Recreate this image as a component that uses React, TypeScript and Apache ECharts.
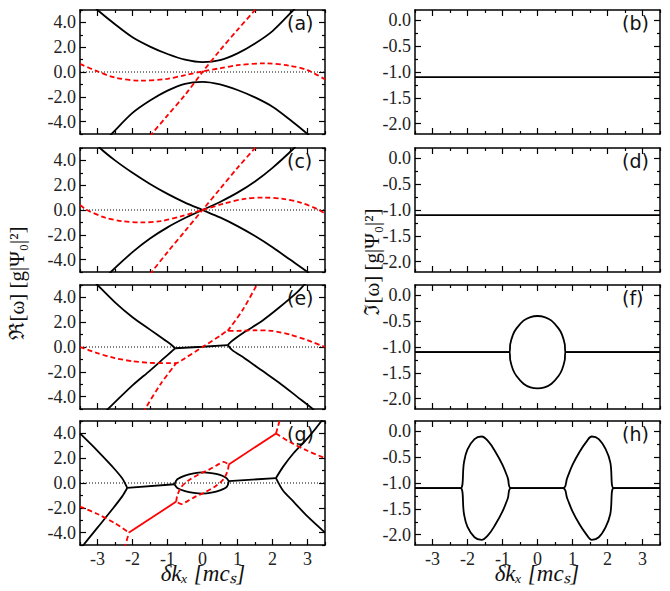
import React, { useEffect, useRef } from "react";
import * as echarts from "echarts";

type P = [number, number][];

// x axis ticks
const xMajor = [-3, -2, -1, 0, 1, 2, 3];
const xMinor = [-3.5, -2.5, -1.5, -0.5, 0.5, 1.5, 2.5, 3.5];
const reMajor = [-4, -2, 0, 2, 4];
const reMinor = [-5, -3, -1, 1, 3, 5];
const imMajor = [-2, -1.5, -1, -0.5, 0];
const imMinor = [-2.25, -1.75, -1.25, -0.75, -0.25];
const zeroLine: P = [[-3.5, 0], [3.5, 0]];

// (a)
const aUp: P = [[-3.1, 5.3], [-3, 5], [-2.5, 3.85], [-2, 2.8], [-1.5, 2.05], [-1, 1.45], [-0.5, 1.0], [0, 0.8], [0.5, 0.95], [1, 1.5], [1.5, 2.3], [2, 3.3], [2.6, 5], [2.7, 5.3]];
const aLo: P = aUp.map(([x, y]) => [-x, -y] as [number, number]).reverse();
const aRedSteep: P = [[-1.5, -5.2], [-1.45, -5], [-1, -3.5], [-0.5, -1.85], [0, 0], [0.5, 1.75], [1, 3.4], [1.5, 5], [1.55, 5.2]];
const aRedWave: P = [[-3.5, 0.65], [-3, 0.05], [-2.5, -0.45], [-1.8, -0.7], [-1, -0.55], [-0.5, -0.25], [0, 0.05], [0.5, 0.3], [1, 0.55], [1.8, 0.7], [2.5, 0.5], [3, 0.15], [3.5, -0.6]];
// (c)
const cDown: P = [[-3.0, 5.3], [-2.93, 5], [-2.5, 4.0], [-2, 3.0], [-1.5, 2.1], [-1, 1.3], [-0.5, 0.6], [0, 0], [0.5, -0.6], [1, -1.3], [1.5, -2.1], [2, -3.0], [2.5, -4.0], [3.0, -5], [3.1, -5.3]];
const cUp: P = [[-2.7, -5.3], [-2.62, -5], [-2, -3.4], [-1.5, -2.3], [-1, -1.4], [-0.5, -0.65], [0, 0], [0.5, 0.65], [1, 1.4], [1.5, 2.3], [2, 3.4], [2.62, 5], [2.7, 5.3]];
const cRedSteep: P = [[-1.5, -5.2], [-1.45, -5], [-1, -3.4], [-0.5, -1.7], [0, 0], [0.5, 1.7], [1, 3.4], [1.5, 5], [1.55, 5.2]];
const cRedWave: P = [[-3.5, 0.4], [-3.3, 0], [-2.8, -0.6], [-2.3, -0.9], [-1.75, -1.0], [-1.2, -0.9], [-0.6, -0.5], [0, 0], [0.6, 0.5], [1.2, 0.9], [1.75, 1.0], [2.3, 0.9], [2.8, 0.6], [3.3, 0.05], [3.5, -0.3]];
// (e)
const eLeftUp: P = [[-3.1, 5.3], [-3, 5], [-2.5, 3.6], [-2, 2.4], [-1.5, 1.4], [-1.1, 0.6], [-0.9, 0.2], [-0.78, -0.1]];
const eLeftLo: P = [[-2.8, -5.3], [-2.7, -5], [-2, -3.1], [-1.5, -1.9], [-1.1, -0.9], [-0.9, -0.4], [-0.78, -0.1]];
const eMid: P = [[-0.78, -0.1], [0, 0.02], [0.72, 0.15]];
const eRightUp: P = [[0.72, 0.15], [0.85, 0.5], [1.2, 1.2], [1.7, 2.1], [2.2, 3.2], [2.7, 4.4], [2.9, 5], [3.0, 5.3]];
const eRightLo: P = [[0.72, 0.15], [0.85, -0.25], [1.2, -0.9], [1.7, -1.9], [2.2, -2.9], [2.7, -4.0], [3.15, -5], [3.25, -5.3]];
const eRedWave: P = [[-3.5, 0], [-3, -0.5], [-2.5, -0.9], [-2, -1.15], [-1.5, -1.28], [-1, -1.3], [-0.75, -1.3], [-0.5, -0.9], [0, 0], [0.5, 0.9], [0.72, 1.3], [1, 1.3], [1.5, 1.35], [2, 1.3], [2.5, 1.0], [3, 0.55], [3.5, 0]];
const eRedSteepL: P = [[-1.7, -5.3], [-1.64, -5], [-1.2, -3.0], [-0.75, -1.3]];
const eRedSteepR: P = [[0.72, 1.3], [1.15, 3.0], [1.55, 5], [1.6, 5.3]];
// (g)
const gLeftUp: P = [[-3.5, 4.0], [-3, 2.6], [-2.6, 1.4], [-2.3, 0.4], [-2.15, -0.4]];
const gLeftLo: P = [[-3.45, -5.3], [-3.4, -5], [-3, -3.6], [-2.6, -2.2], [-2.3, -1.1], [-2.15, -0.4]];
const gMidL: P = [[-2.15, -0.4], [-0.8, -0.1]];
const gMidR: P = [[0.75, 0.15], [2.1, 0.4]];
const gEllUp: P = [[-0.8, -0.1], [-0.72, 0.3], [-0.5, 0.6], [-0.25, 0.78], [0, 0.85], [0.25, 0.8], [0.5, 0.65], [0.68, 0.4], [0.75, 0.15]];
const gEllLo: P = [[-0.8, -0.1], [-0.72, -0.4], [-0.5, -0.65], [-0.25, -0.8], [0, -0.85], [0.25, -0.78], [0.5, -0.6], [0.7, -0.3], [0.75, 0.15]];
const gRightUp: P = [[2.1, 0.4], [2.3, 1.3], [2.6, 2.4], [3, 3.6], [3.4, 5], [3.45, 5.3]];
const gRightLo: P = [[2.1, 0.4], [2.3, -0.6], [2.6, -1.5], [3, -2.7], [3.5, -4.0]];
const gRedSolidL: P = [[-2.1, -4.0], [-0.75, -1.5]];
const gRedSolidR: P = [[0.75, 1.5], [2.1, 4.0]];
const gRedDashL: P = [[-3.5, -1.9], [-3, -2.5], [-2.5, -3.25], [-2.1, -4.0]];
const gRedSteepL: P = [[-2.22, -5.3], [-2.2, -5], [-2.1, -4.0]];
const gRedDashR: P = [[2.1, 4.0], [2.5, 3.3], [3, 2.6], [3.5, 2.0]];
const gRedSteepR: P = [[2.1, 4.0], [2.2, 5], [2.22, 5.3]];
const gRedEllUp: P = [[-0.75, -1.5], [-0.72, -1.0], [-0.6, -0.3], [-0.4, 0.2], [-0.1, 0.7], [0.2, 1.1], [0.45, 1.5], [0.6, 1.7], [0.75, 1.5]];
const gRedEllLo: P = gRedEllUp.map(([x, y]) => [-x, -y] as [number, number]);
// imaginary parts
const imFlat: P = [[-3.5, -1.1], [3.5, -1.1]];
const fTop: P = [[-3.5, -1.1], [-0.8, -1.1], [-0.78, -0.95], [-0.7, -0.76], [-0.6, -0.64], [-0.4, -0.49], [-0.2, -0.42], [0, -0.4], [0.2, -0.42], [0.4, -0.49], [0.6, -0.64], [0.7, -0.76], [0.78, -0.95], [0.8, -1.1], [3.5, -1.1]];
const fBot: P = fTop.map(([x, y]) => [x, -2.2 - y] as [number, number]);
const hTop: P = [[-3.5, -1.1], [-2.2, -1.1], [-2.1, -0.6], [-2.0, -0.35], [-1.8, -0.15], [-1.6, -0.1], [-1.4, -0.2], [-1.2, -0.4], [-1.0, -0.65], [-0.85, -0.9], [-0.75, -1.1], [0.72, -1.1], [0.85, -0.9], [1.0, -0.65], [1.2, -0.4], [1.4, -0.2], [1.55, -0.1], [1.75, -0.15], [1.95, -0.35], [2.08, -0.6], [2.18, -1.1], [3.5, -1.1]];
const hBot: P = hTop.map(([x, y]) => [x, -2.2 - y] as [number, number]);

const labels = ["(a)", "(b)", "(c)", "(d)", "(e)", "(f)", "(g)", "(h)"];
const tops = [10, 148, 285, 421];
const lefts = [80, 415];
const H = 124, W = 245;
const serif = "serif";

export default function App() {
  const ref = useRef<HTMLDivElement>(null);
  useEffect(() => {
    const chart = echarts.init(ref.current!, undefined, { renderer: "svg" });
    const grid: any[] = [], xAxis: any[] = [], yAxis: any[] = [], series: any[] = [], graphic: any[] = [];
    for (let i = 0; i < 8; i++) {
      const row = Math.floor(i / 2), col = i % 2;
      grid.push({ left: lefts[col], top: tops[row], width: W, height: H });
      const isRe = col === 0;
      const yMin = isRe ? -5 : -2.2, yMax = isRe ? 5 : 0.2;
      const yMaj = isRe ? reMajor : imMajor, yMin2 = isRe ? reMinor : imMinor;
      const line = { show: true, onZero: false, lineStyle: { color: "#000", width: 1.5 } };
      const noLine = { show: false, onZero: false };
      const lbl = { fontFamily: serif, fontSize: 18, color: "#222" };
      const last = row === 3;
      [["bottom", true], ["bottom", false], ["top", true], ["top", false]].forEach(([pos, maj]: any) => {
        xAxis.push({
          type: "value", gridIndex: i, position: pos, min: -3.5, max: 3.5,
          axisLine: maj ? line : noLine, splitLine: { show: false },
          axisTick: { inside: true, length: maj ? 6 : 3, lineStyle: { color: "#000", width: 1.2 }, customValues: maj ? xMajor : xMinor },
          axisLabel: { show: maj && pos === "bottom" && last, customValues: xMajor, ...lbl, margin: 5 },
        });
      });
      [["left", true], ["left", false], ["right", true], ["right", false]].forEach(([pos, maj]: any) => {
        yAxis.push({
          type: "value", gridIndex: i, position: pos, min: yMin, max: yMax,
          axisLine: maj ? line : noLine, splitLine: { show: false },
          axisTick: { inside: true, length: maj ? 6 : 3, lineStyle: { color: "#000", width: 1.2 }, customValues: maj ? yMaj : yMin2 },
          axisLabel: { show: maj && pos === "left", customValues: yMaj, formatter: (v: number) => v.toFixed(1), ...lbl, margin: 4 },
        });
      });
      graphic.push({ type: "text", left: lefts[col] + W - 38, top: tops[row] + 3, style: { text: labels[i], font: "19px 'DejaVu Sans'", fill: "#111" } });
    }
    const add = (g: number, data: P, color: string, dashed = false, smooth: number = 0.3, width = 1.8) => {
      series.push({
        type: "line", xAxisIndex: g * 4, yAxisIndex: g * 4, data, showSymbol: false, smooth, clip: true,
        lineStyle: { color, width, type: dashed ? [5, 3] : "solid" }, silent: true,
      });
    };
    const K = "#000", R = "#ff0000";
    [0, 2, 4, 6].forEach((g) => series.push({ type: "line", xAxisIndex: g * 4, yAxisIndex: g * 4, data: zeroLine, showSymbol: false, lineStyle: { color: "#000", width: 1, type: [1, 2] } }));
    add(0, aUp, K); add(0, aLo, K); add(0, aRedSteep, R, true); add(0, aRedWave, R, true);
    add(2, cDown, K); add(2, cUp, K); add(2, cRedSteep, R, true); add(2, cRedWave, R, true);
    add(4, eLeftUp, K); add(4, eLeftLo, K); add(4, eMid, K, false, 0); add(4, eRightUp, K); add(4, eRightLo, K);
    add(4, eRedWave, R, true, 0.2); add(4, eRedSteepL, R, true); add(4, eRedSteepR, R, true);
    add(6, gLeftUp, K); add(6, gLeftLo, K); add(6, gMidL, K, false, 0); add(6, gMidR, K, false, 0);
    add(6, gEllUp, K); add(6, gEllLo, K); add(6, gRightUp, K); add(6, gRightLo, K);
    add(6, gRedSolidL, R, false, 0); add(6, gRedSolidR, R, false, 0);
    add(6, gRedDashL, R, true); add(6, gRedSteepL, R, true); add(6, gRedDashR, R, true); add(6, gRedSteepR, R, true);
    add(6, gRedEllUp, R, true); add(6, gRedEllLo, R, true);
    add(1, imFlat, K, false, 0); add(3, imFlat, K, false, 0);
    add(5, fTop, K, false, 0.2); add(5, fBot, K, false, 0.2);
    add(7, hTop, K, false, 0.4); add(7, hBot, K, false, 0.4);

    graphic.push(
      { type: "text", x: 6, y: 283, rotation: Math.PI / 2, style: { text: "ℜ[ω] [g|Ψ₀|²]", font: "21px serif", fill: "#111", align: "center", verticalAlign: "top" } },
      { type: "text", x: 361, y: 262, rotation: Math.PI / 2, style: { text: "ℑ[ω] [g|Ψ₀|²]", font: "21px serif", fill: "#111", align: "center", verticalAlign: "top" } },
      { type: "text", x: 203, y: 562, style: { text: "δkₓ [mcₛ]", font: "italic 23px serif", fill: "#111", align: "center" } },
      { type: "text", x: 537, y: 562, style: { text: "δkₓ [mcₛ]", font: "italic 23px serif", fill: "#111", align: "center" } },
    );
    chart.setOption({ animation: false, backgroundColor: "#fff", grid, xAxis, yAxis, series, graphic });
    return () => chart.dispose();
  }, []);
  return <div ref={ref} style={{ position: "fixed", left: 0, top: 0, width: 670, height: 591 }} />;
}
